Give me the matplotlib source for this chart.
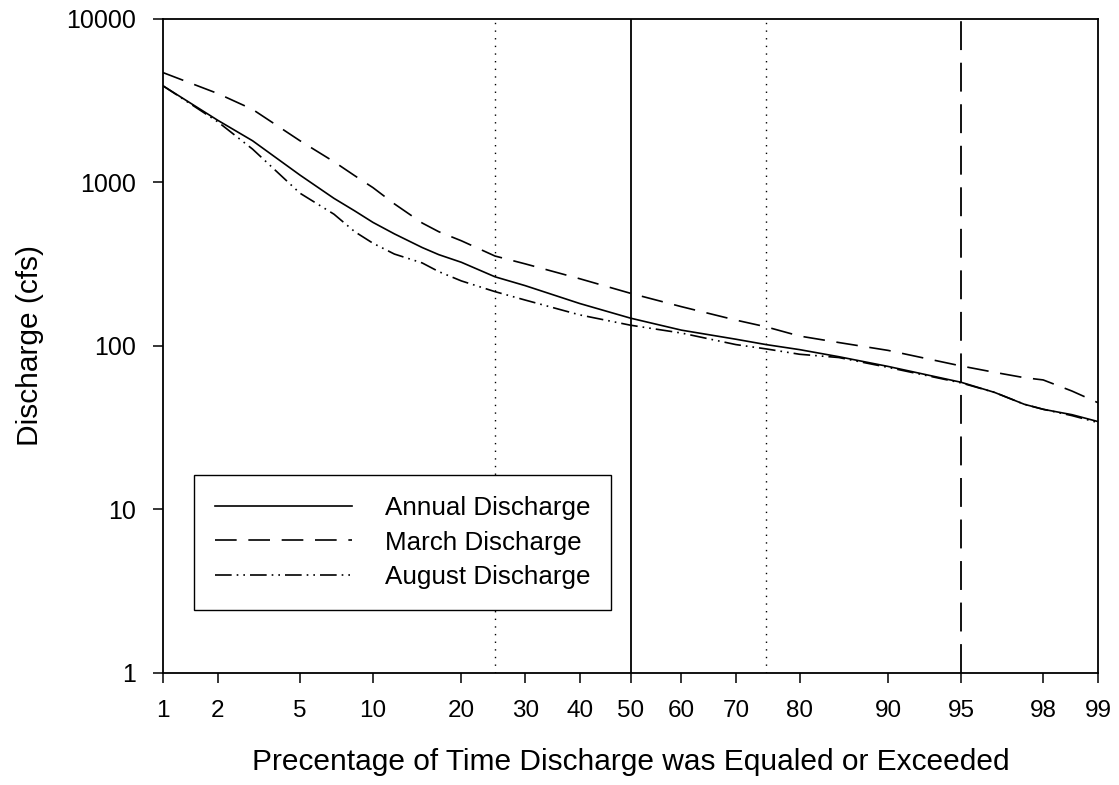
import math
import numpy as np
import matplotlib
matplotlib.use("Agg")
import matplotlib.pyplot as plt

plt.rcParams['font.family'] = ['Liberation Sans', 'DejaVu Sans']

# percent of time exceeded, and discharge (cfs) for each record
pct = [1, 2, 3, 5, 7, 8.5, 10, 12, 15, 17, 20, 25, 30, 40, 50, 60, 70, 75,
       80, 85, 90, 95, 96.5, 97.5, 98, 98.6, 99]
annual = [3900, 2400, 1800, 1110, 800, 670, 570, 485, 400, 362, 325, 265, 234,
          182, 148, 125, 110, 102, 95, 86, 75, 60, 52, 44, 41, 38, 34.5]
march = [4700, 3500, 2800, 1800, 1340, 1100, 930, 740, 565, 500, 440, 355, 318,
         258, 210, 174, 144, 131, 115, 105, 94, 75.5, 69, 64, 62, 53, 45]
august = [3900, 2350, 1600, 860, 640, 500, 425, 365, 322, 285, 250, 215, 191,
          155, 134, 120, 102, 96, 89, 85, 74, 59.5, 52, 44, 41, 37.5, 34]

x_ticks = [1, 2, 5, 10, 20, 30, 40, 50, 60, 70, 80, 90, 95, 98, 99]
y_ticks = [1, 10, 100, 1000, 10000]
ref_pct = [25, 50, 75, 95]


def norm_ppf(q):
    # Acklam's rational approximation of the inverse normal CDF
    q = np.clip(np.asarray(q, dtype=float), 1e-9, 1 - 1e-9)
    a = [-3.969683028665376e+01, 2.209460984245205e+02, -2.759285104469687e+02,
         1.383577518672690e+02, -3.066479806614716e+01, 2.506628277459239e+00]
    b = [-5.447609879822406e+01, 1.615858368580409e+02, -1.556989798598866e+02,
         6.680131188771972e+01, -1.328068155288572e+01]
    c = [-7.784894002430293e-03, -3.223964580411365e-01, -2.400758277161838e+00,
         -2.549732539343734e+00, 4.374664141464968e+00, 2.938163982698783e+00]
    d = [7.784695709041462e-03, 3.224671290700398e-01, 2.445134137142996e+00,
         3.754408661907416e+00]
    lo = 0.02425
    z = np.empty_like(q)
    m = q < lo
    t = np.sqrt(-2 * np.log(q[m]))
    z[m] = (((((c[0]*t + c[1])*t + c[2])*t + c[3])*t + c[4])*t + c[5]) / \
           ((((d[0]*t + d[1])*t + d[2])*t + d[3])*t + 1)
    m = q > 1 - lo
    t = np.sqrt(-2 * np.log(1 - q[m]))
    z[m] = -(((((c[0]*t + c[1])*t + c[2])*t + c[3])*t + c[4])*t + c[5]) / \
            ((((d[0]*t + d[1])*t + d[2])*t + d[3])*t + 1)
    m = (q >= lo) & (q <= 1 - lo)
    r = q[m] - 0.5
    s = r * r
    z[m] = (((((a[0]*s + a[1])*s + a[2])*s + a[3])*s + a[4])*s + a[5]) * r / \
           (((((b[0]*s + b[1])*s + b[2])*s + b[3])*s + b[4])*s + 1)
    return z


_erf = np.vectorize(math.erf)


def prob_fwd(p):
    return norm_ppf(np.asarray(p, dtype=float) / 100.0)


def prob_inv(z):
    return 50.0 * (1 + _erf(np.asarray(z, dtype=float) / math.sqrt(2)))


fig = plt.figure(figsize=(11.19, 7.85), dpi=100)
ax = fig.add_axes([0.1457, 0.1427, 0.8355, 0.8331])
ax.set_xscale('function', functions=(prob_fwd, prob_inv))
ax.set_yscale('log')

lw = 1.2
ax.plot(pct, annual, color='black', lw=lw, ls='-', label='Annual Discharge')
ax.plot(pct, march, color='black', lw=lw, ls=(0, (13, 7)), label='March Discharge')
ax.plot(pct, august, color='black', lw=lw, ls=(0, (10, 3, 1, 3, 1, 3)),
        label='August Discharge')

ref_styles = [(0, (1, 4.5)), '-', (0, (1, 4.5)), (0, (16, 7))]
ref_widths = [1.0, 1.3, 1.0, 1.3]
for p, ls, w in zip(ref_pct, ref_styles, ref_widths):
    ax.axvline(p, color='black', lw=w, ls=ls, zorder=1)

ax.set_xlim(1, 99)
ax.set_ylim(1, 10000)
ax.set_xticks(x_ticks)
ax.set_xticklabels([str(v) for v in x_ticks])
ax.set_yticks(y_ticks)
ax.set_yticklabels([str(v) for v in y_ticks])
ax.yaxis.set_minor_locator(matplotlib.ticker.NullLocator())
ax.xaxis.set_minor_locator(matplotlib.ticker.NullLocator())

for s in ax.spines.values():
    s.set_linewidth(1.3)
ax.tick_params(axis='x', direction='out', length=7.5, width=1.1, pad=12,
               labelsize=17.5, top=False)
ax.tick_params(axis='y', direction='out', length=7.5, width=1.1, pad=12,
               labelsize=18, right=False)

ax.set_xlabel('Precentage of Time Discharge was Equaled or Exceeded',
              fontsize=21.5, labelpad=19)
ax.set_ylabel('Discharge (cfs)', fontsize=21.5, labelpad=16)

leg = ax.legend(loc='lower left', bbox_to_anchor=(0.033, 0.096),
                borderaxespad=0, fontsize=18.7, frameon=True, fancybox=False,
                framealpha=1, edgecolor='black', handlelength=5.3,
                handletextpad=1.25, borderpad=0.8, labelspacing=0.42)
leg.get_frame().set_linewidth(1.0)

fig.savefig('out.png', dpi=100)
